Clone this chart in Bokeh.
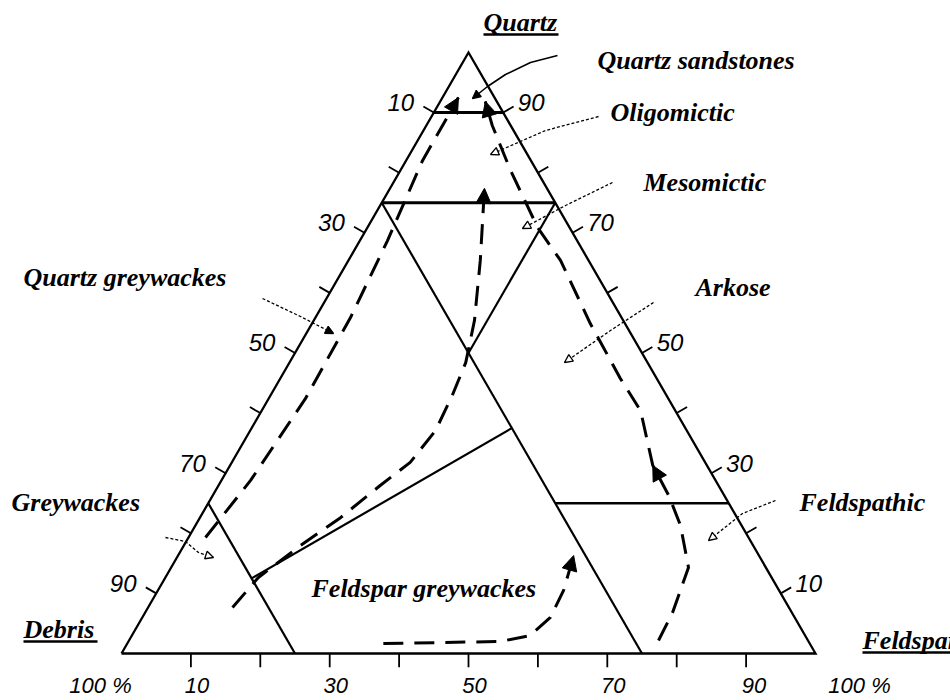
import numpy as np
from bokeh.plotting import figure
from bokeh.models import Range1d, Arrow, NormalHead, ColumnDataSource
from bokeh.core.properties import value
from bokeh.embed import file_html
from bokeh.resources import INLINE

# ---------------- data (ternary percentages: Q = quartz, F = feldspar, debris = 100 - Q - F)
tick_values = [10, 20, 30, 40, 50, 60, 70, 80, 90]
left_tick_q = [90, 70, 50, 30, 10]
left_tick_labels = ["10", "30", "50", "70", "90"]
right_tick_q = [90, 70, 50, 30, 10]
right_tick_labels = ["90", "70", "50", "30", "10"]
bottom_tick_f = [0, 10, 30, 50, 70, 90, 100]
bottom_tick_labels = ["100 %", "10", "30", "50", "70", "90", "100 %"]

# class boundaries (start/end in Q and F)
boundary_q = [[90, 90], [75, 75], [75, 0], [75, 50], [25, 0], [12.5, 37.5], [25, 25]]
boundary_f = [[0, 10], [0, 25], [0, 75], [25, 25], [0, 25], [12.5, 37.5], [50, 75]]
boundary_w = [3.0, 3.0, 2.2, 2.2, 2.2, 2.2, 2.6]

# dashed trend paths
trend_a_q = [19.3, 28.8, 42.4, 55.9, 68.7, 82.0, 92.5]
trend_a_f = [2.45, 4.2, 5.3, 5.05, 3.98, 2.37, 2.3]
trend_b_q = [7.65, 12.65, 17.97, 22.6, 27.95, 31.8, 37.1, 42.9, 48.4, 55.4, 65.4, 77.4]
trend_b_f = [12.17, 13.4, 16.8, 20.26, 23.3, 25.7, 26.7, 26.2, 25.4, 23.16, 19.0, 13.6]
trend_c_q = [2.16, 6.82, 14.3, 21.3, 26.3, 31.3, 40.4, 45.76, 54.9, 65.4, 70.9, 80.4, 87.85, 91.85]
trend_c_f = [76.3, 76.0, 74.55, 69.9, 65.7, 60.9, 54.6, 49.0, 40.1, 30.56, 24.5, 15.85, 9.5, 6.5]
trend_d_q = [1.66, 2.0, 3.0, 6.0, 10.5, 13.3, 16.3]
trend_d_f = [36.9, 53.6, 57.4, 58.8, 58.45, 57.75, 57.0]

region_labels = ["Quartz sandstones", "Oligomictic", "Mesomictic", "Quartz greywackes",
                 "Arkose", "Greywackes", "Feldspathic", "Feldspar greywackes"]
vertex_labels = ["Quartz", "Debris", "Feldspar"]

# ---------------- layout helpers
S = 6.94                      # px per percent unit
W, H = 950, 700
X0, Y0 = 121, 653             # picture position of the Debris vertex
x_start = -X0 / S
y_end = Y0 / S

def tern(q, f):
    q = np.asarray(q, float)
    f = np.asarray(f, float)
    return f + q / 2.0, q * np.sqrt(3) / 2.0

def page(X, Y):
    return (X - X0) / S, (Y0 - Y) / S

p = figure(width=W, height=H, x_range=Range1d(x_start, x_start + W / S),
           y_range=Range1d(y_end - H / S, y_end), output_backend="svg",
           toolbar_location=None, min_border=0, x_axis_location=None,
           y_axis_location=None)
p.grid.visible = False
p.outline_line_color = None
p.background_fill_color = "white"

# triangle outline
tx, ty = tern([0, 0, 100, 0], [0, 100, 0, 0])
p.line(tx, ty, line_color="black", line_width=2.3, line_join="miter")

# boundaries
bxs, bys = [], []
for q, f in zip(boundary_q, boundary_f):
    x, y = tern(q, f)
    bxs.append(list(x)); bys.append(list(y))
p.multi_line(xs="xs", ys="ys", line_width="w", line_color="black",
             source=ColumnDataSource(dict(xs=bxs, ys=bys, w=boundary_w)))

# ticks
TL = 12 / S
c30, s30 = np.sqrt(3) / 2, 0.5
tv = np.array(tick_values, float)
lx, ly = tern(tv, 0 * tv)
rx, ry = tern(tv, 100 - tv)
bx, by = tern(0 * tv, tv)
p.segment(lx, ly, lx - c30 * TL, ly + s30 * TL, line_color="black", line_width=1.8)
p.segment(rx, ry, rx + c30 * TL, ry + s30 * TL, line_color="black", line_width=1.8)
p.segment(bx, by, bx, by - 1.15 * TL, line_color="black", line_width=1.8)

num_font = value("Liberation Sans")
lqx, lqy = tern(left_tick_q, [0] * 5)
p.text(lqx - 33 / S, lqy + 10 / S, text=left_tick_labels, text_font=num_font,
       text_font_style="italic", text_font_size="24px", text_align="center",
       text_baseline="middle")
rq = np.array(right_tick_q, float)
rqx, rqy = tern(rq, 100 - rq)
p.text(rqx + 28 / S, rqy + 10 / S, text=right_tick_labels, text_font=num_font,
       text_font_style="italic", text_font_size="24px", text_align="center",
       text_baseline="middle")
bfx, bfy = tern([0] * 7, bottom_tick_f)
boff = np.array([-21, 6, 6, 6, 6, 8, 44]) / S
p.text(bfx + boff, bfy - 32 / S, text=bottom_tick_labels, text_font=num_font,
       text_font_style="italic", text_font_size="22px", text_align="center",
       text_baseline="middle")

# dashed trend lines with arrowheads
def head(xs, ys, i, j, size=15):
    p.add_layout(Arrow(end=NormalHead(size=size, fill_color="black", line_color="black"),
                       x_start=xs[i], y_start=ys[i], x_end=xs[j], y_end=ys[j],
                       line_alpha=0))

for qq, ff, heads in [(trend_a_q, trend_a_f, [(-2, -1)]),
                      (trend_b_q, trend_b_f, [(-2, -1)]),
                      (trend_c_q, trend_c_f, [(4, 5), (-2, -1)]),
                      (trend_d_q, trend_d_f, [(-2, -1)])]:
    x, y = tern(qq, ff)
    p.line(x, y, line_color="black", line_width=3, line_dash="20 11")
    for i, j in heads:
        head(x, y, i, j)

# labels
serif = value("Liberation Serif")
BL = 8  # renderer places the alphabetic baseline this many px lower
lab_pos = {  # left, baseline (picture px)
    "Quartz": (483, 30), "Debris": (23, 637), "Feldspar": (862, 648),
    "Quartz sandstones": (597, 68), "Oligomictic": (610, 120), "Mesomictic": (643, 190),
    "Quartz greywackes": (23, 285), "Arkose": (695, 295), "Greywackes": (11, 510),
    "Feldspathic": (799, 510), "Feldspar greywackes": (311, 596),
}
names = vertex_labels + region_labels
lxp, lyp = zip(*[page(lab_pos[n][0], lab_pos[n][1] - BL) for n in names])
p.text(list(lxp), list(lyp), text=names, text_font=serif, text_font_style="bold italic",
       text_font_size="26px", text_align="left", text_baseline="alphabetic",
       text_color="black")

# underlines of vertex names
ul = [((483, 34), (558, 34)), ((23, 641), (97, 641)), ((862, 652), (960, 652))]
ux0, uy0 = zip(*[page(*a) for a, b in ul])
ux1, uy1 = zip(*[page(*b) for a, b in ul])
p.segment(list(ux0), list(uy0), list(ux1), list(uy1), line_color="black", line_width=2.5)

# leader arrows from labels into fields
leaders = [
    ([(557, 55), (530, 62), (505, 74), (487, 86), (472, 98)], "solid", 1.6, "black"),
    ([(598, 116), (545, 130), (490, 154)], "3 2", 1.3, "white"),
    ([(612, 182), (565, 205), (522, 228)], "3 2", 1.3, "white"),
    ([(262, 298), (300, 316), (333, 333)], "3 2", 1.3, "black"),
    ([(653, 302), (610, 330), (564, 362)], "3 2", 1.3, "white"),
    ([(165, 537), (185, 541), (198, 552), (213, 557)], "3 2", 1.3, "white"),
    ([(775, 500), (742, 513), (708, 540)], "3 2", 1.3, "white"),
]
for pts, dash, w, fc in leaders:
    xs, ys = zip(*[page(*pt) for pt in pts])
    p.line(list(xs), list(ys), line_color="black", line_width=w, line_dash=dash)
    p.add_layout(Arrow(end=NormalHead(size=8, fill_color=fc, line_color="black", line_width=1.3),
                       x_start=xs[-2], y_start=ys[-2], x_end=xs[-1], y_end=ys[-1],
                       line_alpha=0))

open("out.html", "w").write(file_html(p, INLINE))
